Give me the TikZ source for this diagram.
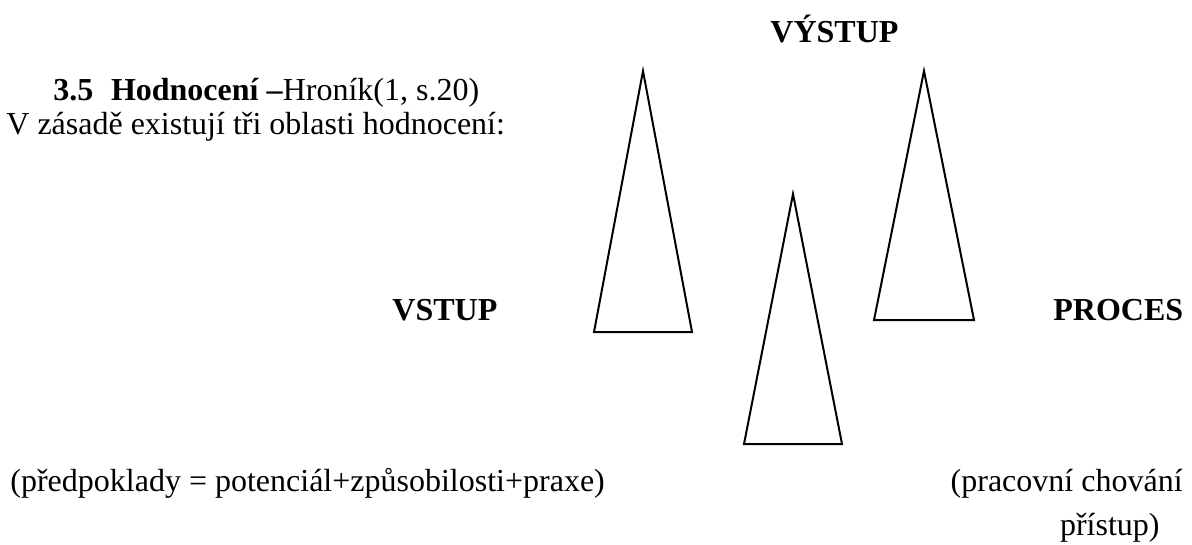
\documentclass[tikz,border=0pt]{standalone}
\usepackage{fontspec}
\setmainfont{Liberation Serif}
\begin{document}
\begin{tikzpicture}[x=0.5pt,y=-0.5pt,
  txt/.style={anchor=base west,inner sep=0pt,font=\fontsize{16}{19}\selectfont},
  txtr/.style={anchor=base east,inner sep=0pt,font=\fontsize{16}{19}\selectfont},
  lbl/.style={anchor=base west,inner sep=0pt,font=\fontsize{16}{19}\selectfont\bfseries},
  tri/.style={draw=black,line width=1pt,line join=miter}]
\useasboundingbox (0,0) rectangle (1192,545);
% texts
\node[txt] (head) at (53,101) {\textbf{3.5\hspace{0.55em}Hodnocení –}Hroník(1, s.20)};
\node[txt] (intro) at (6,135) {V zásadě existují tři oblasti hodnocení:};
\node[lbl] (vystup) at (770,43) {VÝSTUP};
\node[lbl] (vstup) at (392,320) {VSTUP};
\node[lbl] (proces) at (1053,320) {PROCES};
\node[txt] (pred) at (10,491) {(předpoklady = potenciál+způsobilosti+praxe)};
\node[txtr] (prac) at (1183,491) {(pracovní chování};
\node[txtr] (pris) at (1160,535) {přístup)};
% triangles
\draw[tri] (643,71) -- (692,332) -- (594,332) -- cycle;
\draw[tri] (924,71) -- (974,320) -- (874,320) -- cycle;
\draw[tri] (793,194) -- (842,444) -- (744,444) -- cycle;
\end{tikzpicture}
\end{document}
